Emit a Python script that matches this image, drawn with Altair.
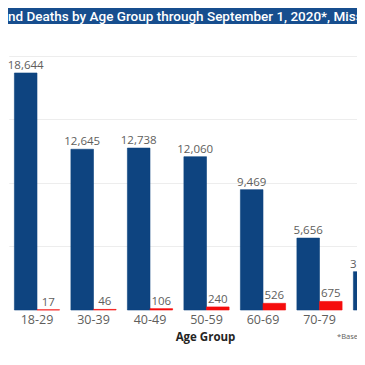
import altair as alt
import pandas as pd

age_groups = ["18-29", "30-39", "40-49", "50-59", "60-69", "70-79", "80+"]
cases = [18644, 12645, 12738, 12060, 9469, 5656, 3012]
death_groups = ["18-29", "30-39", "40-49", "50-59", "60-69", "70-79"]
deaths = [17, 46, 106, 240, 526, 675]
series = ["Cases", "Deaths"]
series_colors = ["#0E4480", "#F50C0C"]
title_text = "nd Deaths by Age Group through September 1, 2020*, Miss"
footnote_text = "*Based on"
grid_values = [5000, 10000, 15000, 20000]

rows = [{"age": a, "measure": "Cases", "value": v} for a, v in zip(age_groups, cases)]
rows += [{"age": a, "measure": "Deaths", "value": v} for a, v in zip(death_groups, deaths)]
df = pd.DataFrame(rows)

W, H = 349, 302

x = alt.X("age:N", sort=age_groups,
          scale=alt.Scale(domain=age_groups, range=[0.75, 396.25], paddingInner=0.2, paddingOuter=0.1),
          axis=alt.Axis(title="Age Group", labelAngle=0, ticks=False, domain=False,
                        labelFont="Open Sans", labelFontSize=12.5, labelColor="#605E5C",
                        labelPadding=3, titleFont="Open Sans", titleFontWeight="bold",
                        titleFontSize=11.5, titleColor="#252423", titleX=197, titleY=30,
                        titleBaseline="alphabetic", titleAlign="center"))
xo = alt.XOffset("measure:N", sort=series, scale=alt.Scale(domain=series, paddingInner=0, paddingOuter=0))
y = alt.Y("value:Q", scale=alt.Scale(domain=[0, 23757], nice=False, zero=True),
          axis=alt.Axis(title=None, labels=False, ticks=False, domain=False, grid=True,
                        values=grid_values, gridColor="#EDEDED", gridWidth=1))

base = alt.Chart(df)
color_scale = alt.Scale(domain=series, range=series_colors)
bars = base.mark_bar().encode(
    x=x, xOffset=xo, y=y,
    color=alt.Color("measure:N", scale=color_scale, legend=None),
    stroke=alt.Color("measure:N", scale=color_scale, legend=None),
    strokeWidth=alt.value(0.6),
)
labels = base.mark_text(baseline="alphabetic", dy=-4, font="Open Sans",
                        fontSize=11.5, color="#605E5C").encode(
    x=x, xOffset=xo, y=y, text=alt.Text("value:Q", format=",")
)

tdf = pd.DataFrame({"t": [title_text]})
title_bar = alt.Chart(tdf).mark_rect(color="#174E8E").encode(
    x=alt.value(0), x2=alt.value(W), y=alt.value(0), y2=alt.value(16)
)
title = alt.Chart(tdf).mark_text(align="left", baseline="alphabetic", font="Roboto",
                                 fontWeight=500, fontSize=13.5, color="white").encode(
    x=alt.value(0), y=alt.value(13), text="t:N"
)
fdf = pd.DataFrame({"t": [footnote_text]})
foot = alt.Chart(fdf).mark_text(align="left", baseline="middle", font="Open Sans",
                                fontSize=7.5, color="#605E5C").encode(
    x=alt.value(329), y=alt.value(329), text="t:N"
)

chart = alt.layer(bars, labels, title_bar, title, foot).properties(
    width=W, height=H,
    autosize=alt.AutoSizeParams(type="none"),
    padding={"left": 0, "top": 0, "right": 0, "bottom": 47},
).configure_view(stroke=None)

chart.save("out.html", embed_options={"renderer": "svg", "actions": False})
